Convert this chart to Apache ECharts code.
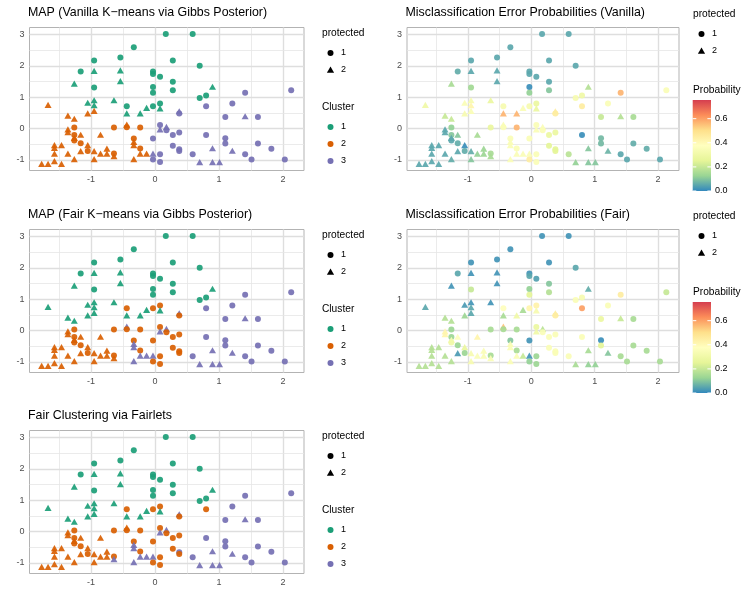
<!DOCTYPE html>
<html>
<head>
<meta charset="utf-8">
<script src="https://cdn.jsdelivr.net/npm/echarts@6/dist/echarts.min.js"></script>
<style>
  html, body { margin: 0; padding: 0; background: #fff; }
  #c { width: 741px; height: 591px; }
</style>
</head>
<body>
<div id="c"></div>
<script>
// ---- observations (shared by all five panels) ----
const xs = [
  0.17, 0.59, -0.33, -0.54, -0.95, 0.28, 0.70, -1.16, -0.95, -0.54,
  -0.03, -0.03, 0.08, -1.26, -0.54, -0.95, -0.03, 0.28, 0.90, -0.03,
  0.28, 0.80, 0.70, 1.41, 2.13, 1.21, 0.80, -0.64, -0.95, -1.05,
  -0.95, -0.44, -0.13, -0.03, 0.08, 0.08, -0.44, -0.23, -1.67, -1.36,
  -1.26, -1.05, -0.95, 0.38, 0.38, 1.10, 1.41, 1.61, -1.26, -1.36,
  -1.36, -1.26, -1.26, -1.26, -1.16, -1.16, -0.85, -0.64, -0.44, -0.44,
  -0.23, -0.33, -0.33, -0.33, -0.33, -0.23, -0.23, -0.13, -0.03, -0.03,
  -0.03, 0.08, 0.08, 0.08, 0.08, 0.18, 0.18, 0.28, 0.38, 0.28,
  0.38, 0.38, 0.80, 1.10, 1.10, 1.61, 1.82, 0.90, 1.21, 0.59,
  1.41, 1.51, 2.03, 0.70, 0.90, 1.01, -1.77, -1.67, -1.57, -1.57,
  -1.57, -1.57, -1.46, -1.46, -1.36, -1.26, -1.16, -1.05, -1.05, -0.95,
  -0.95, -0.85, -0.75, -0.75, -0.64, -0.64
];
const ys = [
  3.01, 3.01, 2.59, 2.26, 2.17, 2.17, 2.00, 1.82, 1.84, 1.85,
  1.82, 1.74, 1.65, 1.43, 1.51, 1.31, 1.32, 1.49, 1.33, 1.14,
  1.22, 1.05, 0.97, 1.14, 1.22, 0.80, 0.71, 0.90, 0.90, 0.82,
  0.74, 0.71, 0.66, 0.71, 0.80, 0.64, 0.48, 0.48, 0.75, 0.41,
  0.31, 0.48, 0.56, 0.55, 0.48, 0.37, 0.39, 0.37, 0.03, -0.03,
  -0.12, -0.21, -0.30, -0.38, -0.20, -0.47, -0.20, 0.03, 0.12, 0.04,
  0.03, -0.32, -0.43, -0.53, -0.98, -0.64, -0.80, -0.80, -0.80, -0.32,
  -0.99, -0.82, -1.07, 0.11, -0.03, 0.05, -0.06, -0.21, -0.13, -0.55,
  -0.66, -0.72, -0.21, -0.31, -0.48, -0.48, -0.65, -0.63, -0.71, -0.82,
  -0.82, -0.99, -0.99, -1.07, -1.07, -1.07, -1.13, -1.13, -1.04, -0.80,
  -0.62, -0.53, -1.13, -0.53, -0.80, -0.98, -0.72, -0.53, -0.72, -0.72,
  -0.98, -0.80, -0.64, -0.80, -0.80, -0.88
];
// protected attribute: 1 = circle, 2 = triangle
const protectedGroup = [
  1,1,1,1,1,1,1,1,2,2,
  1,1,1,2,2,1,1,1,2,1,
  1,1,1,1,1,1,1,2,2,2,
  2,1,2,1,1,2,2,2,2,2,
  2,2,2,2,1,1,2,1,1,2,
  2,1,2,1,2,1,2,1,2,1,
  1,1,2,2,2,1,2,2,2,1,
  1,1,1,1,2,2,1,1,1,1,
  1,1,1,1,1,1,1,2,2,1,
  1,1,1,2,2,2,2,2,2,2,
  2,2,2,2,2,2,2,2,1,2,
  2,2,2,2,1,2
];
const clusterVanilla = [
  1,1,1,1,1,1,1,1,1,1,
  1,1,1,1,1,1,1,1,1,1,
  1,1,1,3,3,3,3,1,1,1,
  1,1,1,1,1,1,1,1,2,2,
  2,2,2,3,3,3,3,3,2,2,
  2,2,2,2,2,2,2,2,2,2,
  2,2,2,2,2,2,2,2,3,3,
  3,3,3,3,3,3,3,3,3,3,
  3,3,3,3,3,3,3,3,3,3,
  3,3,3,3,3,3,2,2,2,2,
  2,2,2,2,2,2,2,2,2,2,
  2,2,2,2,2,2
];
const clusterFair = [
  1,1,1,1,1,1,1,1,1,1,
  1,1,1,1,1,1,1,1,1,1,
  1,1,1,3,3,3,3,1,1,1,
  1,2,1,2,2,1,1,1,1,1,
  1,1,1,3,2,3,3,3,2,2,
  2,2,2,2,2,2,2,2,3,2,
  2,2,3,3,3,2,3,3,3,2,
  2,2,2,2,3,3,2,2,2,2,
  2,2,3,3,3,3,3,3,3,3,
  3,3,3,3,3,3,2,2,2,2,
  2,2,2,2,2,2,2,2,2,2,
  2,2,2,2,2,2
];
const clusterFairlet = [
  1,1,1,1,1,1,1,1,1,1,
  1,1,1,1,1,1,1,1,1,1,
  1,1,1,3,3,3,2,1,1,1,
  1,2,1,2,2,1,1,1,1,1,
  1,1,1,3,2,3,3,3,2,2,
  2,2,2,2,2,2,2,2,2,2,
  2,2,3,3,3,2,3,3,3,2,
  2,2,2,2,3,3,2,2,2,2,
  3,2,3,3,3,3,3,3,3,3,
  3,3,3,3,3,3,2,2,2,2,
  2,2,2,2,2,2,2,2,2,2,
  2,2,2,2,2,3
];
const probVanilla = [
  .05,.05,.05,.05,.05,.05,.05,.06,.05,.05,
  .05,.05,.05,.15,.05,.14,.01,.05,.17,.12,
  .10,.30,.33,.57,.35,.35,.45,.28,.33,.35,
  .42,.33,.35,.33,.28,.28,.57,.57,.30,.20,
  .20,.33,.35,.45,.45,.20,.17,.15,.12,.05,
  .05,.10,.05,.05,.10,.06,.15,.27,.35,.35,
  .57,.35,.35,.35,.35,.35,.35,.35,.35,.35,
  .45,.35,.35,.35,.35,.35,.35,.28,.28,.25,
  .25,.25,.01,.08,.08,.06,.06,.10,.07,.18,
  .05,.05,.05,.12,.10,.10,.05,.05,.05,.05,
  .05,.05,.05,.05,.05,.06,.05,.01,.06,.06,
  .10,.12,.13,.13,.15,.15
];
const probFair = [
  .02,.02,.02,.02,.02,.02,.05,.05,.02,.02,
  .02,.05,.04,.02,.02,.20,.12,.10,.06,.25,
  .17,.33,.35,.45,.20,.35,.60,.02,.02,.03,
  .05,.37,.15,.42,.43,.33,.15,.30,.05,.17,
  .17,.13,.05,.45,.45,.28,.20,.15,.13,.42,
  .42,.13,.35,.30,.37,.13,.42,.15,.55,.15,
  .15,.10,.35,.35,.35,.15,.35,.20,.02,.02,
  .12,.13,.13,.28,.30,.18,.35,.35,.35,.35,
  .35,.35,.35,.01,.25,.15,.15,.15,.10,.35,
  .15,.15,.15,.15,.12,.12,.17,.17,.17,.17,
  .17,.17,.17,.17,.17,.17,.03,.27,.13,.33,
  .33,.35,.35,.35,.15,.35
];

// ---- axes, scales and legend vocabulary ----
const xTicks = [-1, 0, 1, 2];
const yTicks = [-1, 0, 1, 2, 3];
const xGridLines = [-1.5, -1, -0.5, 0, 0.5, 1, 1.5, 2];
const yGridLines = [-1, -0.5, 0, 0.5, 1, 1.5, 2, 2.5, 3];
const probTicks = [0, 0.2, 0.4, 0.6];
const clusterLabels = ['1', '2', '3'];
const protectedLabels = ['1', '2'];
const clusterColors = ['#1B9E77', '#D95F02', '#7570B3'];
const spectral = ['#3288BD', '#99D594', '#E6F598', '#FFFFBF', '#FEE08B', '#FC8D59', '#D53E4F'];
const X_RANGE = [-1.96, 2.33];
const Y_RANGE = [-1.34, 3.22];
const PROB_RANGE = [0, 0.755];

const FONT = 'Liberation Sans, Arial, Helvetica, sans-serif';

const panels = [
  { rect: [29.5, 27.5, 274.5, 143], title: 'MAP (Vanilla K−means via Gibbs Posterior)', kind: 'cluster', values: clusterVanilla, legend: [322, 33] },
  { rect: [407, 27.5, 272, 143], title: 'Misclassification Error Probabilities (Vanilla)', kind: 'prob', values: probVanilla, legend: [693, 14] },
  { rect: [29.5, 229.5, 274.5, 143], title: 'MAP (Fair K−means via Gibbs Posterior)', kind: 'cluster', values: clusterFair, legend: [322, 235] },
  { rect: [407, 229.5, 272, 143], title: 'Misclassification Error Probabilities (Fair)', kind: 'prob', values: probFair, legend: [693, 216] },
  { rect: [29.5, 430.5, 274.5, 143], title: 'Fair Clustering via Fairlets', kind: 'cluster', values: clusterFairlet, legend: [322, 436] }
];

const grids = [], xAxes = [], yAxes = [], series = [], titles = [], visualMaps = [], graphics = [];

panels.forEach((p, i) => {
  const [l, t, w, h] = p.rect;
  grids.push({ left: l, top: t, width: w, height: h, show: true, borderColor: '#B3B3B3', borderWidth: 1, backgroundColor: '#fff' });
  titles.push({ text: p.title, left: l - 1.5, top: t - 20.5, padding: 0,
    textStyle: { fontSize: 12.4, fontWeight: 'normal', color: '#000', fontFamily: FONT } });
  const axisCommon = {
    type: 'value', gridIndex: i,
    axisLine: { show: false },
    splitLine: { show: false },
    axisTick: { show: true, length: 3, lineStyle: { color: '#B3B3B3', width: 1 } },
    axisLabel: { color: '#4D4D4D', fontSize: 9, fontFamily: FONT, margin: 5 }
  };
  xAxes.push(Object.assign({}, axisCommon, {
    min: X_RANGE[0], max: X_RANGE[1],
    axisTick: Object.assign({}, axisCommon.axisTick, { customValues: xTicks }),
    axisLabel: Object.assign({}, axisCommon.axisLabel, { customValues: xTicks, formatter: v => String(v) })
  }));
  yAxes.push(Object.assign({}, axisCommon, {
    min: Y_RANGE[0], max: Y_RANGE[1],
    axisTick: Object.assign({}, axisCommon.axisTick, { customValues: yTicks }),
    axisLabel: Object.assign({}, axisCommon.axisLabel, { customValues: yTicks, formatter: v => String(v) })
  }));

  const data = xs.map((x, k) => [x, ys[k], protectedGroup[k], p.values[k]]);
  const major = v => Number.isInteger(v);
  const gridLineData = xGridLines.map(v => ({ xAxis: v, lineStyle: { width: major(v) ? 1.4 : 0.8, color: major(v) ? '#DEDEDE' : '#E6E6E6' } }))
    .concat(yGridLines.map(v => ({ yAxis: v, lineStyle: { width: major(v) ? 1.4 : 0.8, color: major(v) ? '#DEDEDE' : '#E6E6E6' } })));

  const s = {
    type: 'scatter', xAxisIndex: i, yAxisIndex: i, z: 2,
    data: data,
    symbol: v => (v[2] === 2 ? 'triangle' : 'circle'),
    symbolSize: v => (v[2] === 2 ? [7, 6.2] : 6),
    itemStyle: { opacity: 0.92 },
    emphasis: { disabled: true },
    markLine: {
      silent: true, symbol: 'none', z: 1, animation: false,
      label: { show: false },
      lineStyle: { type: 'solid' },
      data: gridLineData
    }
  };
  if (p.kind === 'cluster') {
    s.itemStyle.color = prm => clusterColors[prm.value[3] - 1];
  } else {
    visualMaps.push({ type: 'continuous', show: false, seriesIndex: i, dimension: 3,
      min: PROB_RANGE[0], max: PROB_RANGE[1], inRange: { color: spectral } });
  }
  series.push(s);

  // legends
  const [lx, ly] = p.legend;
  const txt = (x, y, str, size) => ({ type: 'text', x: x, y: y,
    style: { text: str, fill: '#000', fontSize: size, fontFamily: FONT, verticalAlign: 'middle', align: 'left' } });
  const tri = (cx, cy, color) => ({ type: 'polygon',
    shape: { points: [[cx, cy - 3.4], [cx - 3.6, cy + 2.8], [cx + 3.6, cy + 2.8]] }, style: { fill: color } });
  const dot = (cx, cy, color) => ({ type: 'circle', shape: { cx: cx, cy: cy, r: 3 }, style: { fill: color } });

  graphics.push(txt(lx, ly, 'protected', 10.2));
  graphics.push(dot(lx + 8.5, ly + 20, '#000'));
  graphics.push(txt(lx + 19, ly + 20, protectedLabels[0], 9));
  graphics.push(tri(lx + 8.5, ly + 37, '#000'));
  graphics.push(txt(lx + 19, ly + 37, protectedLabels[1], 9));

  if (p.kind === 'cluster') {
    graphics.push(txt(lx, ly + 74, 'Cluster', 10.2));
    clusterLabels.forEach((lab, j) => {
      const cy = ly + 94 + j * 17;
      graphics.push(dot(lx + 8.5, cy, clusterColors[j]));
      graphics.push(txt(lx + 19, cy, lab, 9));
    });
  } else {
    graphics.push(txt(lx, ly + 76, 'Probability', 10.2));
    const barX = lx - 0.3, barW = 18.3, barTop = ly + 86, barBottom = ly + 177;
    const valToY = v => barBottom - (v - PROB_RANGE[0]) / (PROB_RANGE[1] - PROB_RANGE[0]) * (barBottom - barTop);
    graphics.push({ type: 'rect', shape: { x: barX, y: barTop, width: barW, height: barBottom - barTop },
      style: { fill: new echarts.graphic.LinearGradient(0, 1, 0, 0,
        spectral.map((c, k) => ({ offset: k / (spectral.length - 1), color: c }))) } });
    probTicks.forEach(v => {
      const y = valToY(v);
      graphics.push({ type: 'line', shape: { x1: barX, y1: y, x2: barX + 3.6, y2: y }, style: { stroke: '#fff', lineWidth: 1 } });
      graphics.push({ type: 'line', shape: { x1: barX + barW - 3.6, y1: y, x2: barX + barW, y2: y }, style: { stroke: '#fff', lineWidth: 1 } });
      graphics.push(txt(barX + barW + 4, y, v.toFixed(1), 9));
    });
  }
});

const chart = echarts.init(document.getElementById('c'), null, { renderer: 'canvas' });
chart.setOption({
  animation: false,
  backgroundColor: '#fff',
  title: titles,
  grid: grids,
  xAxis: xAxes,
  yAxis: yAxes,
  visualMap: visualMaps,
  series: series,
  graphic: { elements: graphics }
});
</script>
</body>
</html>
